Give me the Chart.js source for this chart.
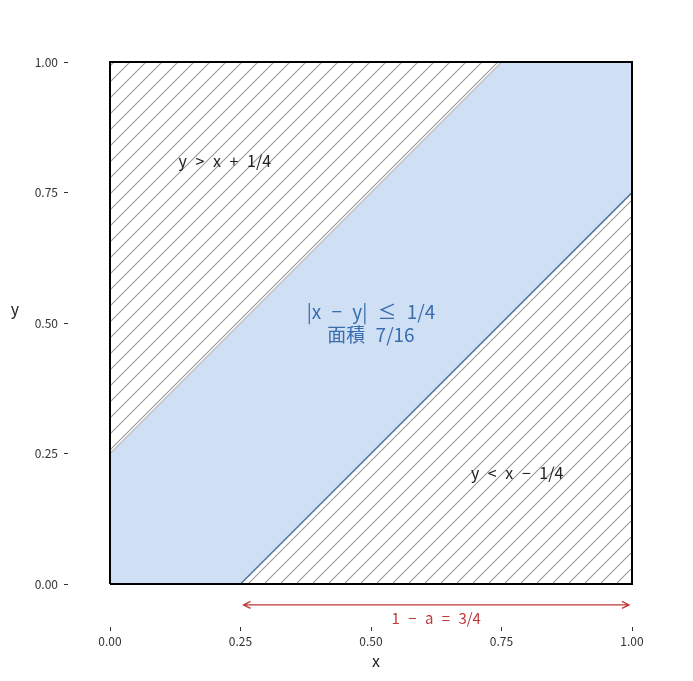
<!DOCTYPE html>
<html>
<head>
<meta charset="utf-8">
<script src="https://cdn.jsdelivr.net/npm/chart.js@4.4.1/dist/chart.umd.min.js"></script>
<style>
  html, body { margin: 0; background: #fff; }
  #wrap { width: 693px; height: 681px; }
</style>
</head>
<body>
<div id="wrap"><canvas id="grafico"></canvas></div>
<script>
// Datos de la figura
const xTicks = [0, 0.25, 0.5, 0.75, 1];
const yTicks = [0, 0.25, 0.5, 0.75, 1];
const upperX = [0, 0.75, 1];        // y = x + 1/4
const upperY = [0.25, 1, 1];
const lowerX = [0, 0.25, 1];        // y = x - 1/4
const lowerY = [0, 0, 0.75];
const boxX = [0, 1, 1, 0, 0];
const boxY = [0, 0, 1, 1, 0];
const arrowX = [0.25, 1];
const arrowY = [-0.04, -0.04];

const FONT = '"Noto Sans CJK JP", "Noto Sans", sans-serif';

function pts(xs, ys) {
    return xs.map((x, i) => ({ x: x, y: ys[i] }));
}

// Patrón rayado "/"
function rayado() {
    const s = 16;
    const c = document.createElement('canvas');
    c.width = s; c.height = s;
    const g = c.getContext('2d');
    g.fillStyle = '#fff';
    g.fillRect(0, 0, s, s);
    g.strokeStyle = '#999';
    g.lineWidth = 1.1;
    g.beginPath();
    g.moveTo(-1, s + 1); g.lineTo(s + 1, -1);
    g.moveTo(-1, 1); g.lineTo(1, -1);
    g.moveTo(s - 1, s + 1); g.lineTo(s + 1, s - 1);
    g.stroke();
    return g.createPattern(c, 'repeat');
}
const patron = rayado();

// Textos dentro del gráfico
const textos = [
    { t: 'y > x + 1/4', x: 0.22, y: 0.81, color: '#222', size: 16, ws: 5 },
    { t: 'y < x − 1/4', x: 0.78, y: 0.213, color: '#222', size: 16, ws: 5 },
    { t: '|x − y| ≤ 1/4', x: 0.5, y: 0.522, color: '#3a6db0', size: 19, ws: 6 },
    { t: '面積 7/16', x: 0.5, y: 0.477, color: '#3a6db0', size: 19, ws: 6 },
    { t: '1 − a = 3/4', x: 0.625, y: -0.065, color: '#c0393b', size: 15, ws: 5 }
];

const extras = {
    id: 'extras',
    afterDatasetsDraw(chart) {
        const ctx = chart.ctx;
        const sx = chart.scales.x, sy = chart.scales.y;
        ctx.save();
        // flecha de doble punta
        const y = sy.getPixelForValue(arrowY[0]);
        const x0 = sx.getPixelForValue(arrowX[0]) + 3;
        const x1 = sx.getPixelForValue(arrowX[1]) - 3;
        ctx.strokeStyle = '#c0393b';
        ctx.lineWidth = 1.3;
        ctx.beginPath();
        ctx.moveTo(x0, y); ctx.lineTo(x1, y);
        ctx.moveTo(x0 + 7, y - 3.5); ctx.lineTo(x0, y); ctx.lineTo(x0 + 7, y + 3.5);
        ctx.moveTo(x1 - 7, y - 3.5); ctx.lineTo(x1, y); ctx.lineTo(x1 - 7, y + 3.5);
        ctx.stroke();

        ctx.textAlign = 'center';
        ctx.textBaseline = 'middle';
        textos.forEach(o => {
            ctx.fillStyle = o.color;
            ctx.font = o.size + 'px ' + FONT;
            ctx.wordSpacing = o.ws + 'px';
            ctx.fillText(o.t, sx.getPixelForValue(o.x), sy.getPixelForValue(o.y));
        });
        ctx.wordSpacing = '0px';

        // títulos de ejes
        ctx.fillStyle = '#222';
        ctx.font = '16px ' + FONT;
        ctx.fillText('x', sx.getPixelForValue(0.5) + 5, 661);
        ctx.fillText('y', 15, 309);
        ctx.restore();
    }
};

const ctx = document.getElementById('grafico').getContext('2d');
const grafico = new Chart(ctx, {
    type: 'line',
    data: {
        datasets: [
            {   // marco
                data: pts(boxX, boxY),
                borderColor: '#000', borderWidth: 2,
                pointRadius: 0, fill: false, clip: false, order: 0
            },
            {   // región inferior rayada
                data: pts(lowerX, lowerY),
                borderColor: '#5577a3', borderWidth: 1.6,
                backgroundColor: patron, pointRadius: 0,
                fill: 'origin', order: 1
            },
            {   // región superior rayada
                data: pts(upperX, upperY),
                borderColor: '#999', borderWidth: 1,
                backgroundColor: patron, pointRadius: 0,
                fill: 'end', order: 2
            },
            {   // banda |x - y| <= 1/4
                data: pts([0, 1], [1, 1]),
                borderWidth: 0, borderColor: 'rgba(0,0,0,0)',
                backgroundColor: '#cfdff4', pointRadius: 0,
                fill: 'origin', order: 3
            }
        ]
    },
    options: {
        responsive: true,
        maintainAspectRatio: false,
        animation: false,
        layout: { padding: { left: 0, right: 61, top: 62, bottom: 0 } },
        plugins: {
            legend: { display: false },
            tooltip: { enabled: false }
        },
        scales: {
            x: {
                type: 'linear',
                min: -42 / 522, max: 1,
                afterFit: s => { s.height = 54; },
                afterBuildTicks: s => { s.ticks = xTicks.map(v => ({ value: v })); },
                grid: { drawOnChartArea: false, tickLength: 4, color: '#333' },
                border: { display: false },
                ticks: {
                    padding: 3, color: '#333',
                    font: { family: FONT, size: 12 },
                    callback: v => v.toFixed(2)
                }
            },
            y: {
                min: -43 / 522, max: 1,
                afterFit: s => { s.width = 68; },
                afterBuildTicks: s => { s.ticks = yTicks.map(v => ({ value: v })); },
                grid: { drawOnChartArea: false, tickLength: 4, color: '#333' },
                border: { display: false },
                ticks: {
                    padding: 6, color: '#333',
                    font: { family: FONT, size: 12 },
                    callback: v => v.toFixed(2)
                }
            }
        }
    },
    plugins: [extras]
});
</script>
</body>
</html>
